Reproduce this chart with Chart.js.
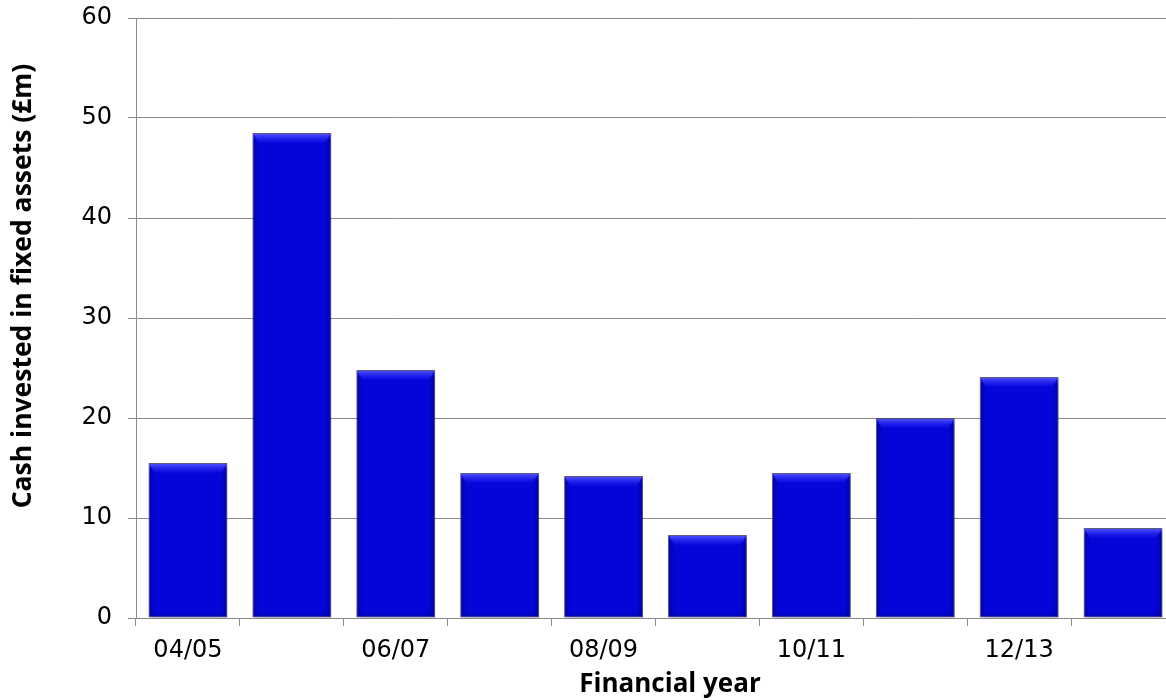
<!DOCTYPE html>
<html>
<head>
<meta charset="utf-8">
<script src="https://cdn.jsdelivr.net/npm/chart.js@4/dist/chart.umd.min.js"></script>
<style>
  html, body { margin: 0; padding: 0; background: #fff; overflow: hidden; }
  #wrap { width: 1180px; height: 700px; position: relative; }
  canvas { display: block; }
</style>
</head>
<body>
<div id="wrap"><canvas id="c" width="1180" height="700"></canvas></div>
<script>
// Capital spend by financial year
const years = ['04/05', '05/06', '06/07', '07/08', '08/09', '09/10', '10/11', '11/12', '12/13', '13/14'];
const cashInvested = [15.5, 48.5, 24.8, 14.5, 14.2, 8.3, 14.5, 20.0, 24.1, 9.0];
const yTicks = [0, 10, 20, 30, 40, 50, 60];
const yTitle = 'Cash invested in fixed assets (£m)';
const xTitle = 'Financial year';

const gridGrey = '#8a8a8a';
const tickFont = { family: '"DejaVu Sans", sans-serif', size: 24 };

// soft shadow behind each bar
const barShadow = {
  id: 'barShadow',
  beforeDatasetsDraw(chart) {
    const ctx = chart.ctx;
    ctx.save();
    ctx.shadowColor = 'rgba(0,0,0,0.35)';
    ctx.shadowBlur = 5;
    ctx.shadowOffsetX = 2;
    ctx.shadowOffsetY = 2;
  },
  afterDatasetsDraw(chart) {
    const ctx = chart.ctx;
    ctx.restore();
    // bevel: light top edge, darker sides and foot
    const meta = chart.getDatasetMeta(0);
    meta.data.forEach(bar => {
      const p = bar.getProps(['x', 'y', 'base', 'width'], true);
      const l = p.x - p.width / 2, r = p.x + p.width / 2, t = p.y, b = p.base;
      ctx.save();
      let g = ctx.createLinearGradient(0, t, 0, t + 11);
      g.addColorStop(0, 'rgba(90,90,255,1)');
      g.addColorStop(1, 'rgba(40,40,255,0)');
      ctx.fillStyle = g;
      ctx.beginPath();
      ctx.moveTo(l + 1, t + 1);
      ctx.lineTo(r - 1, t + 1);
      ctx.lineTo(r - 6, t + 10);
      ctx.lineTo(l + 6, t + 10);
      ctx.closePath();
      ctx.fill();
      g = ctx.createLinearGradient(l, 0, l + 7, 0);
      g.addColorStop(0, 'rgba(0,0,110,0.5)');
      g.addColorStop(1, 'rgba(0,0,110,0)');
      ctx.fillStyle = g;
      ctx.fillRect(l + 1, t + 6, 7, b - t - 7);
      g = ctx.createLinearGradient(r, 0, r - 7, 0);
      g.addColorStop(0, 'rgba(0,0,110,0.5)');
      g.addColorStop(1, 'rgba(0,0,110,0)');
      ctx.fillStyle = g;
      ctx.fillRect(r - 8, t + 6, 7, b - t - 7);
      g = ctx.createLinearGradient(0, b, 0, b - 6);
      g.addColorStop(0, 'rgba(0,0,110,0.4)');
      g.addColorStop(1, 'rgba(0,0,110,0)');
      ctx.fillStyle = g;
      ctx.fillRect(l + 1, b - 6, r - l - 2, 5);
      ctx.restore();
    });
  }
};

// axis titles
const axisTitles = {
  id: 'axisTitles',
  afterDraw(chart) {
    const ctx = chart.ctx;
    ctx.save();
    ctx.fillStyle = '#000';
    ctx.textAlign = 'center';
    ctx.textBaseline = 'middle';
    ctx.font = '700 26px "Open Sans", sans-serif';
    ctx.fillText(xTitle, 670, 685);
    ctx.font = '700 26.5px "Open Sans", sans-serif';
    ctx.translate(23, 286);
    ctx.rotate(-Math.PI / 2);
    ctx.fillText(yTitle, 0, 0);
    ctx.restore();
  }
};

new Chart(document.getElementById('c'), {
  type: 'bar',
  data: {
    labels: years,
    datasets: [{
      data: cashInvested,
      backgroundColor: '#0505da',
      borderColor: 'rgba(70,70,120,0.85)',
      borderWidth: 1,
      borderSkipped: false,
      categoryPercentage: 1.0,
      barPercentage: 0.76
    }]
  },
  options: {
    responsive: false,
    animation: false,
    devicePixelRatio: 1,
    layout: { padding: { top: 0, right: 5, left: 0, bottom: 0 } },
    plugins: { legend: { display: false }, tooltip: { enabled: false } },
    scales: {
      x: {
        grid: { display: true, drawOnChartArea: false, drawTicks: true, tickLength: 8, color: gridGrey, offset: true },
        border: { display: true, color: gridGrey, width: 1 },
        ticks: {
          autoSkip: false, maxRotation: 0, padding: 10, color: '#000', font: tickFont,
          callback: (v, i) => (i % 2 === 0 ? years[i] : '')
        },
        afterFit: s => { s.height = 82; }
      },
      y: {
        min: 0, max: 60,
        afterBuildTicks: s => { s.ticks = yTicks.map(v => ({ value: v })); },
        grid: { color: gridGrey, tickLength: 8, drawTicks: true },
        border: { display: true, color: gridGrey, width: 1 },
        ticks: { padding: 16, color: '#000', font: tickFont },
        afterFit: s => { s.width = 136; s.paddingTop = 18; s.paddingBottom = 0; }
      }
    }
  },
  plugins: [barShadow, axisTitles]
});
</script>
</body>
</html>
